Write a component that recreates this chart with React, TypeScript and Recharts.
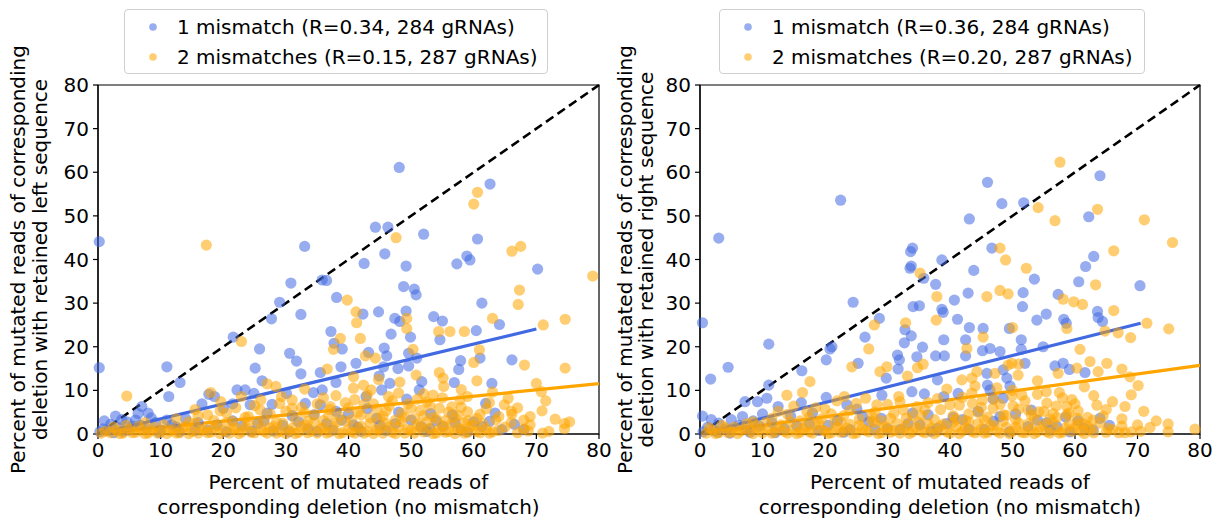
import React from "react";
import { ScatterChart, Scatter, XAxis, YAxis, ReferenceLine, ReferenceArea } from "recharts";

type Pt = [number, number];

const FONT = "'DejaVu Sans', Verdana, sans-serif";
const FS = 20;
const BLUE = "#4169E1";
const ORANGE = "#FFA500";

const axisTicks = [0, 10, 20, 30, 40, 50, 60, 70, 80];

const xTitle = ["Percent of mutated reads of", "corresponding deletion (no mismatch)"];
const leftYTitle = ["Percent of mutated reads of corresponding", "deletion with retained left sequence"];
const rightYTitle = ["Percent of mutated reads of corresponding", "deletion with retained right sequence"];
const leftLegend = ["1 mismatch (R=0.34, 284 gRNAs)", "2 mismatches (R=0.15, 287 gRNAs)"];
const rightLegend = ["1 mismatch (R=0.36, 284 gRNAs)", "2 mismatches (R=0.20, 287 gRNAs)"];

// least-squares fits: slope, intercept, last x of the fitted range
const leftFitOne = { slope: 0.343, intercept: 0.05, xMax: 70 };
const leftFitTwo = { slope: 0.143, intercept: 0.1, xMax: 80 };
const rightFitOne = { slope: 0.36, intercept: 0.0, xMax: 70.5 };
const rightFitTwo = { slope: 0.196, intercept: 0.05, xMax: 80 };

// left sequence retained, 1 mismatch
const leftOneMismatch: Pt[] = [
  [0.2, 44.1], [33.0, 43.0], [48.1, 61.1], [62.6, 57.3], [44.3, 47.4], [46.3, 47.4], [52.0, 45.8], [60.6, 44.7], [45.8, 41.3], [58.9, 40.8],
  [0.2, 15.2], [11.0, 15.4], [11.3, 8.6], [13.1, 11.8], [21.6, 22.2], [29.0, 30.2], [30.8, 34.6], [32.4, 27.4], [27.7, 26.4], [35.8, 35.3],
  [36.5, 35.2], [38.1, 31.3], [37.2, 23.5], [37.7, 20.8], [39.0, 19.5], [25.8, 19.5], [30.6, 18.5], [31.7, 16.7], [32.4, 13.8], [25.1, 15.1],
  [26.2, 12.2], [35.5, 14.1], [38.8, 15.4], [38.0, 11.8], [35.8, 10.1], [34.4, 9.5], [17.7, 9.1], [18.6, 8.6], [22.2, 10.1], [23.5, 10.1],
  [24.9, 9.3], [30.1, 9.3], [16.6, 6.9], [20.0, 5.9], [21.5, 6.9], [24.3, 6.7], [27.8, 6.8], [33.1, 7.0], [35.5, 6.7], [2.8, 4.1],
  [4.6, 2.8], [6.4, 4.7], [7.0, 6.3], [8.5, 3.7], [11.0, 3.2], [36.5, 2.4], [38.9, 3.2],
  [42.5, 39.1], [49.2, 38.5], [57.3, 39.0], [59.4, 39.9], [70.2, 37.8], [48.8, 33.8], [50.5, 33.2], [50.8, 31.9],
  [61.3, 30.0], [42.3, 27.5], [44.8, 28.0], [47.4, 26.5], [48.2, 25.8], [49.2, 28.2], [53.6, 26.9], [55.0, 25.9], [64.1, 25.1], [46.8, 22.9],
  [49.9, 22.2], [54.6, 21.6], [60.4, 23.7], [43.2, 18.7], [45.7, 19.7], [46.1, 17.9], [49.6, 18.5], [50.9, 17.4], [61.0, 17.4],
  [57.9, 16.8], [66.1, 17.0], [41.2, 16.2], [45.6, 15.4], [47.9, 15.0], [49.6, 15.6], [57.6, 14.8], [56.9, 11.8], [62.9, 11.6], [51.7, 12.0],
  [44.9, 13.3], [45.3, 10.1], [46.6, 11.6], [51.3, 10.1], [42.8, 8.6], [49.3, 8.0], [61.9, 7.0], [63.4, 4.8], [48.0, 5.0], [53.1, 4.7],
  [56.6, 4.4], [61.3, 1.7], [55.1, 1.7], [51.6, 1.7], [40.8, 2.1],
  [0.3, 0.5], [0.8, 1.2], [1.5, 0.8], [2.0, 2.2], [3.2, 1.5], [4.0, 0.6], [5.5, 1.8], [6.0, 3.2], [7.8, 1.2], [9.2, 2.6],
  [10.0, 0.9], [12.5, 1.6], [14.0, 3.5], [15.5, 0.8], [19.0, 2.1], [20.5, 0.5], [23.0, 1.8], [26.5, 3.0], [28.0, 0.7], [29.5, 2.0],
  [31.0, 4.2], [33.5, 1.2], [37.5, 0.9], [42.0, 0.6], [44.5, 3.6], [46.0, 0.8], [47.5, 2.4], [52.5, 0.6], [54.0, 3.0], [58.0, 0.8],
  [60.0, 2.8], [64.5, 1.0], [66.5, 2.2],
  [1.0, 3.0], [2.5, 0.3], [3.8, 3.3], [5.0, 0.9], [6.8, 2.0], [8.0, 4.8], [9.8, 0.3], [11.8, 2.1], [13.0, 0.5], [16.0, 2.6],
  [17.5, 0.9], [21.5, 3.0], [24.5, 0.6], [25.5, 2.4], [27.0, 4.8], [30.5, 0.5], [32.0, 2.8], [34.5, 4.4], [35.0, 0.6], [38.0, 5.2],
  [40.0, 4.6], [41.5, 1.5], [43.0, 5.8], [45.0, 2.0], [50.0, 3.2], [53.0, 1.2], [57.0, 2.6], [59.0, 0.5], [62.5, 2.9], [68.0, 1.0],
];

// left sequence retained, 2 mismatches
const leftTwoMismatches: Pt[] = [
  [17.3, 43.3], [60.6, 55.4], [60.0, 52.7], [47.6, 45.0], [66.1, 41.9], [67.5, 43.0], [4.6, 8.7], [22.9, 21.2], [39.8, 30.7], [38.7, 21.9],
  [37.6, 19.4], [36.6, 14.9], [22.9, 8.6], [28.4, 10.9], [29.3, 8.6], [19.6, 7.4], [25.9, 5.5], [37.1, 6.3], [7.5, 2.6],
  [79.0, 36.2], [67.3, 33.0], [67.1, 29.7], [41.2, 28.0], [41.3, 25.5], [49.3, 26.5], [49.3, 24.2], [63.0, 26.5], [71.1, 25.0],
  [74.6, 26.3], [41.9, 21.9], [54.4, 23.5], [56.2, 23.5], [58.5, 23.5], [42.7, 17.9], [44.3, 17.4], [50.3, 19.4], [60.9, 19.3], [60.0, 16.4],
  [68.1, 15.8], [74.6, 15.1], [54.5, 14.1], [55.1, 12.8], [55.2, 10.9], [60.5, 12.2], [70.0, 11.6], [70.8, 9.7], [74.5, 2.4], [75.3, 2.8],
  [70.9, 5.3], [50.8, 13.5], [48.2, 11.9], [40.8, 13.1], [40.8, 10.5], [42.4, 11.2], [43.6, 10.1], [46.4, 8.6], [53.5, 8.9], [57.8, 7.8],
  [64.9, 6.7], [66.1, 4.5], [58.5, 2.6], [59.1, 3.1], [68.7, 0.7],
  [18.0, 9.5], [27.0, 11.5], [33.0, 10.3], [44.8, 12.5], [52.0, 9.2], [58.0, 10.2], [63.0, 9.6], [36.0, 8.3], [31.0, 7.8],
  [0.5, 0.2], [1.2, 0.6], [2, 0.3], [3, 0.8], [4, 0.2], [5, 1.1], [6, 0.4], [7, 0.9], [8, 0.2], [9, 1.5], [10, 0.5],
  [11, 0.1], [12, 1.0], [13, 0.3], [14, 1.8], [15, 0.6], [16, 0.2], [17, 1.2], [18, 0.4], [19, 2.0], [20, 0.7],
  [21, 0.2], [22, 1.4], [23, 0.5], [24, 2.3], [25, 0.3], [26, 1.1], [27, 0.2], [28, 1.7], [29, 0.6], [30, 0.1],
  [31, 1.3], [32, 0.4], [33, 2.1], [34, 0.7], [35, 0.2], [36, 1.5], [37, 0.5], [38, 2.6], [39, 0.3], [40, 1.0],
  [41, 0.2], [42, 1.8], [43, 0.6], [44, 0.1], [45, 1.2], [46, 2.4], [47, 0.4], [48, 1.6], [49, 0.2], [50, 0.9],
  [51, 2.2], [52, 0.5], [53, 1.3], [54, 0.2], [55, 1.9], [56, 0.6], [57, 0.1], [58, 1.1], [59, 0.4], [60, 2.0],
  [61, 0.3], [62, 1.2], [63, 0.5], [65, 1.6], [67, 0.3], [69, 2.1], [72, 0.6], [74.5, 1.2],
  [2.5, 1.6], [3.5, 0.1], [4.5, 2.0], [5.5, 0.3], [6.5, 1.7], [7.5, 0.1], [8.5, 0.8], [9.5, 0.2], [10.5, 2.1], [11.5, 0.7],
  [12.5, 0.2], [13.5, 1.4], [14.5, 0.1], [15.5, 2.4], [16.5, 0.9], [17.5, 0.3], [18.5, 1.5], [19.5, 0.1], [20.5, 2.6], [21.5, 1.0],
  [22.5, 0.1], [23.5, 1.6], [24.5, 0.4], [25.5, 2.8], [26.5, 0.6], [27.5, 1.3], [28.5, 0.2], [29.5, 2.5], [30.5, 0.8], [31.5, 0.1],
  [32.5, 1.6], [33.5, 0.3], [34.5, 2.6], [35.5, 1.1], [36.5, 0.2], [37.5, 1.8], [38.5, 0.1], [39.5, 2.9], [40.5, 0.5], [41.5, 1.4],
  [42.5, 0.2], [43.5, 2.5], [44.5, 0.9], [45.5, 0.2], [46.5, 1.7], [47.5, 0.1], [48.5, 2.8], [49.5, 1.0], [50.5, 0.2], [51.5, 1.5],
  [52.5, 2.7], [53.5, 0.1], [54.5, 1.0], [55.5, 0.4], [56.5, 2.4], [57.5, 1.3], [58.5, 0.2], [59.5, 1.7], [60.5, 0.6], [61.5, 2.3],
  [62.5, 0.2], [64, 0.8], [66, 2.6], [68, 1.2], [71, 0.2],
  [12.5, 3.5], [14.5, 2.8], [16, 4.2], [18.5, 3.1], [20.5, 4.8], [21.5, 2.9], [23.5, 3.8], [25, 6.5], [26.5, 3.2], [27.5, 4.6],
  [28.5, 2.7], [30, 5.2], [31.5, 3.4], [32.5, 6.1], [33.5, 2.9], [34.5, 4.4], [36, 3.1], [37, 5.6], [38.5, 4.1], [39.5, 7.2],
  [40.5, 3.3], [41.5, 5.0], [42.5, 6.8], [43.5, 3.7], [44.5, 5.7], [45.5, 4.1], [46.5, 6.4], [47.5, 3.2], [48.5, 4.8], [49.5, 6.9],
  [50.5, 3.5], [51.5, 5.4], [52.5, 7.3], [53.5, 3.9], [54.5, 5.9], [55.5, 3.1], [56.5, 6.2], [57.5, 4.3], [59, 5.1], [60.5, 3.6],
  [62, 5.8], [63.5, 3.2], [65.5, 8.2], [67, 6.0], [69, 4.0], [71.5, 7.6], [73, 3.4],
  [15.5, 5.6], [17.5, 4.4], [19.5, 5.3], [22, 6.0], [24, 4.0], [26, 7.8], [29, 7.0], [31, 5.9], [33, 4.9], [35, 6.9],
  [36.8, 4.2], [38, 8.8], [40, 6.0], [41, 7.9], [42, 4.4], [43, 9.0], [44, 6.9], [45, 3.6], [46, 5.3], [47, 7.6],
  [48, 9.4], [49, 3.9], [50, 5.9], [51, 8.0], [52, 4.2], [53, 6.5], [54, 3.5], [55, 8.3], [56, 5.0], [57, 3.7],
  [58, 6.1], [59, 8.6], [61, 4.5], [62.5, 7.2], [64, 4.0], [66, 5.2], [68, 3.2],
];

// right sequence retained, 1 mismatch
const rightOneMismatch: Pt[] = [
  [3.0, 44.9], [22.5, 53.6], [34.0, 42.6], [33.7, 41.8], [46.0, 57.7], [64.0, 59.2], [48.3, 52.8], [51.8, 53.0], [43.1, 49.3], [62.2, 49.8],
  [46.7, 42.6], [63.0, 40.7],
  [0.4, 25.5], [1.7, 12.6], [4.5, 15.3], [0.4, 4.1], [11.0, 20.6], [11.0, 11.2], [7.2, 7.4], [9.2, 7.4], [10.7, 8.2], [12.5, 6.3],
  [16.3, 14.5], [16.2, 7.2], [24.5, 30.2], [20.2, 17.0], [20.8, 19.5], [21.1, 20.0], [25.3, 16.2], [26.4, 22.2], [28.7, 26.5], [29.8, 12.8],
  [20.2, 8.4], [23.5, 6.7], [25.1, 5.7], [29.1, 8.9], [33.6, 38.0], [33.8, 38.5], [35.8, 35.7], [38.7, 39.9], [37.7, 34.3], [34.1, 29.2],
  [35.1, 29.4], [38.7, 28.6], [38.9, 27.9], [32.8, 23.9], [33.8, 22.5], [32.7, 20.9], [35.6, 19.9], [31.6, 18.1], [31.9, 17.0], [34.7, 17.7],
  [37.7, 17.9], [39.1, 17.9], [31.7, 14.9], [38.0, 12.4], [33.9, 9.7], [35.9, 9.2], [39.0, 8.6], [33.3, 2.4], [35.2, 2.1],
  [61.7, 38.4], [43.8, 37.5], [53.5, 35.5], [60.6, 34.9], [70.4, 34.0], [42.9, 32.3], [51.7, 32.4], [57.3, 32.0], [40.7, 30.7],
  [51.6, 29.2], [55.4, 27.5], [53.9, 26.1], [58.2, 26.3], [58.6, 25.4], [63.6, 28.1], [63.7, 26.7], [64.4, 25.8], [41.2, 26.3], [43.1, 24.4],
  [45.3, 24.2], [49.5, 24.2], [39.0, 21.6], [42.5, 21.6], [42.5, 17.9], [45.2, 19.1], [46.4, 19.6], [48.0, 18.9], [51.4, 21.6], [51.4, 19.4],
  [52.0, 16.2], [54.9, 20.0], [56.8, 15.6], [58.1, 16.2], [59.1, 14.8], [61.6, 14.1], [45.9, 13.9], [48.5, 14.7], [49.1, 12.8], [49.6, 11.0],
  [46.0, 11.2], [46.4, 10.1], [41.3, 9.3], [46.9, 8.0], [48.5, 8.2], [57.1, 1.7], [52.5, 1.7], [56.0, 0.9], [59.2, 0.5], [62.9, 0.9],
  [0.5, 0.5], [1.2, 1.5], [2.2, 0.8], [3.0, 2.5], [4.2, 1.2], [5.0, 3.3], [6.2, 2.0], [7.5, 1.0], [8.5, 3.0], [9.5, 1.8],
  [11.5, 2.6], [13.5, 1.2], [14.5, 4.1], [17.5, 2.3], [19, 0.8], [22, 3.1], [24, 1.0], [27, 2.8], [30, 1.2], [36.5, 4.4],
  [38, 1.3], [40.5, 3.8], [43, 1.1], [44.5, 5.2], [47, 2.9], [50.5, 4.6], [54, 3.2], [60.5, 3.0], [65.5, 2.0],
  [1.8, 3.3], [2.8, 0.4], [4.8, 0.2], [6.8, 4.0], [8.0, 0.4], [10, 4.6], [12, 0.3], [15.5, 1.8], [18, 4.8], [20.5, 2.0],
  [23, 0.4], [26, 4.0], [28, 1.0], [29, 3.6], [32, 1.0], [34, 4.8], [37, 0.6], [39.5, 2.4], [42, 3.3], [45.5, 1.0],
  [48, 4.0], [49.5, 0.5], [53, 5.5], [55.5, 2.6], [58.5, 3.9], [61.5, 1.3], [64, 3.6],
];

// right sequence retained, 2 mismatches
const rightTwoMismatches: Pt[] = [
  [57.6, 62.3], [54.1, 51.9], [56.8, 48.9], [63.6, 51.5], [71.1, 49.1], [75.6, 43.9], [48.0, 42.6], [66.2, 42.0],
  [13.9, 8.9], [17.6, 12.0], [16.4, 9.5], [17.1, 5.1], [24.3, 15.4], [27.0, 19.5], [27.9, 25.0], [28.8, 14.3], [29.9, 15.4], [21.9, 7.6],
  [23.1, 8.6], [28.3, 6.7], [35.2, 36.9], [37.9, 31.5], [37.8, 26.1], [32.9, 25.5], [34.8, 15.2], [35.7, 16.0], [33.2, 13.3], [31.8, 8.6],
  [31.0, 4.7], [32.5, 5.5], [34.7, 6.3],
  [48.9, 39.9], [52.2, 38.0], [63.3, 34.2], [45.9, 31.5], [48.0, 32.9], [49.3, 32.1], [58.1, 30.9], [59.8, 30.3], [61.2, 29.7], [58.7, 24.2],
  [66.2, 28.3], [64.8, 23.6], [66.9, 23.2], [68.9, 22.1], [71.5, 25.4], [75.0, 24.1], [45.3, 22.2], [50.0, 24.4], [42.7, 19.6], [49.9, 16.2],
  [51.0, 16.0], [60.8, 19.4], [62.4, 16.6], [65.1, 16.2], [57.3, 13.9], [60.3, 15.1], [63.7, 14.3], [67.5, 14.9], [68.8, 13.1], [70.1, 11.1],
  [41.9, 12.4], [43.5, 12.8], [44.3, 14.3], [47.2, 13.9], [49.3, 15.8], [50.9, 13.5], [54.0, 12.2], [55.4, 9.7], [49.9, 8.7], [43.6, 7.0],
  [45.2, 7.8], [46.9, 5.9], [50.1, 6.4], [54.2, 5.1], [58.7, 6.3], [58.7, 4.4], [59.1, 2.4], [57.1, 3.8], [60.4, 3.6], [61.4, 2.3],
  [62.9, 3.2], [65.3, 1.3], [70.0, 2.1], [74.9, 2.3], [74.9, 0.5], [79.2, 1.1], [67.0, 0.3], [68.0, 0.3],
  [1, 0.2], [2, 0.9], [3, 0.3], [4, 1.4], [5, 0.5], [6, 0.1], [7, 1.1], [8, 0.6], [9, 1.9], [10, 0.3],
  [11, 1.2], [12, 0.5], [13, 2.1], [14, 0.2], [15, 1.0], [16, 0.4], [17, 1.7], [18, 0.2], [19, 2.4], [20, 0.8],
  [21, 0.3], [22, 1.5], [23, 0.6], [24, 2.2], [25, 0.2], [26, 1.2], [27, 0.5], [28, 2.6], [29, 0.3], [30, 1.4],
  [31, 0.8], [32, 0.2], [33, 1.9], [34, 0.5], [35, 2.7], [36, 0.3], [37, 1.3], [38, 0.6], [39, 2.3], [40, 0.2],
  [41, 1.6], [42, 0.7], [43, 2.8], [44, 0.3], [45, 1.1], [46, 0.4], [47, 2.0], [48, 0.2], [49, 1.5], [50, 0.6],
  [51, 2.5], [52, 0.3], [53, 1.2], [54, 0.5], [55, 2.2], [56, 0.2], [57, 1.0], [58, 0.4], [60, 1.4], [61, 0.7],
  [62, 1.8], [63, 0.3], [64, 2.5], [66, 1.0], [69, 0.5], [72, 1.5],
  [1.5, 1.4], [2.5, 0.1], [3.5, 2.0], [4.5, 0.3], [5.5, 1.6], [6.5, 0.7], [7.5, 2.4], [8.5, 0.1], [9.5, 1.0], [10.5, 2.6],
  [11.5, 0.2], [12.5, 1.5], [13.5, 0.6], [14.5, 2.8], [15.5, 0.1], [16.5, 1.2], [17.5, 0.5], [18.5, 2.1], [19.5, 0.9], [20.5, 0.1],
  [21.5, 2.5], [22.5, 0.4], [23.5, 1.4], [24.5, 0.1], [25.5, 2.0], [26.5, 0.8], [27.5, 2.9], [28.5, 0.1], [29.5, 1.7], [30.5, 0.4],
  [31.5, 2.4], [32.5, 1.1], [33.5, 0.1], [34.5, 1.5], [35.5, 0.6], [36.5, 2.3], [37.5, 0.1], [38.5, 1.8], [39.5, 0.5], [40.5, 2.6],
  [41.5, 0.1], [42.5, 1.3], [43.5, 0.6], [44.5, 2.4], [45.5, 0.2], [46.5, 1.8], [47.5, 0.7], [48.5, 2.9], [49.5, 0.1], [50.5, 1.5],
  [51.5, 0.4], [52.5, 2.3], [53.5, 0.1], [54.5, 1.6], [55.5, 0.5], [56.5, 2.7], [57.5, 0.2], [58.5, 1.4], [59.5, 0.6], [60.5, 2.4],
  [61.5, 0.1], [62.5, 1.1], [65, 0.4], [67.5, 1.8], [70.5, 0.6],
  [8.5, 2.8], [11.5, 3.6], [14, 4.5], [16, 3.0], [18.5, 6.0], [19.5, 3.5], [21, 4.6], [22.5, 2.9], [24, 5.4], [25.5, 3.4],
  [26.5, 8.2], [27.5, 4.1], [29, 3.0], [30, 6.8], [33, 3.6], [35.5, 4.3], [36.5, 7.2], [37.5, 3.3], [38.5, 5.6], [39.5, 10.3],
  [40.5, 4.2], [41.5, 6.6], [42.5, 3.1], [43.5, 9.4], [44.5, 4.9], [45.5, 3.2], [47.5, 10.6], [48.5, 4.4], [50.5, 3.3], [51.5, 8.9],
  [52.5, 5.5], [53.5, 3.6], [55.5, 7.1], [56.5, 4.7], [57.5, 9.5], [59.5, 7.9], [60.5, 5.3], [61.5, 10.8], [63.5, 6.6], [64.5, 4.1],
  [66, 7.4], [67.5, 3.5], [69, 9.0], [71, 5.2], [73, 3.0],
  [12.5, 5.2], [15, 6.4], [17.5, 3.8], [20, 5.7], [23, 4.2], [25, 7.0], [28, 5.0], [30.5, 3.6], [32, 7.4], [34, 4.1],
  [36, 5.5], [38, 8.1], [40, 6.7], [41, 3.4], [42, 8.4], [43, 4.6], [44, 11.0], [45, 6.1], [46, 3.9], [47, 8.0],
  [48, 6.8], [49, 4.3], [50, 10.0], [51, 5.7], [52, 7.6], [53, 4.4], [54, 9.1], [55, 5.2], [56, 3.4], [57, 6.4],
  [58, 8.3], [59, 4.8], [60, 6.9], [62, 3.8], [63, 8.8], [65, 5.6], [68, 6.3],
];

const toRows = (pts: Pt[]) => pts.map(([x, y]) => ({ x, y }));

type Fit = { slope: number; intercept: number; xMax: number };
const fitSegment = (f: Fit) => [
  { x: 0, y: f.intercept },
  { x: f.xMax, y: f.intercept + f.slope * f.xMax },
];

const dot = (color: string) => (props: any) =>
  <circle cx={props.cx} cy={props.cy} r={5.6} fill={color} fillOpacity={0.55} stroke="none" />;

const CHART_W = 612;
const CHART_H = 520;
const Y_AXIS_W = 40;

type PanelProps = {
  left: number;
  marginRight: number;
  one: Pt[];
  two: Pt[];
  fitOne: Fit;
  fitTwo: Fit;
  yTitle: string[];
  yTitleX: [number, number];
  legend: string[];
  legendLeft: number;
  legendWidth: number;
};

function Panel(p: PanelProps) {
  const margin = { top: 85, right: p.marginRight, bottom: 56, left: 58 };
  const plotLeft = margin.left + Y_AXIS_W;
  const plotRight = CHART_W - margin.right;
  const plotBottom = CHART_H - margin.bottom - 30;
  const cx = (plotLeft + plotRight) / 2;
  const cy = (margin.top + plotBottom) / 2;
  const textStyle = { fontFamily: FONT, fontSize: FS, fill: "#000" };

  const renderXTitle = () => (
    <g>
      <text x={cx} y={plotBottom + 55} textAnchor="middle" style={textStyle}>{xTitle[0]}</text>
      <text x={cx} y={plotBottom + 80} textAnchor="middle" style={textStyle}>{xTitle[1]}</text>
    </g>
  );
  const renderYTitle = () => (
    <g>
      {p.yTitle.map((t, i) => (
        <text key={i} x={p.yTitleX[i]} y={cy} textAnchor="middle" dominantBaseline="central"
          transform={`rotate(-90, ${p.yTitleX[i]}, ${cy})`} style={textStyle}>{t}</text>
      ))}
    </g>
  );

  return (
    <div style={{ position: "absolute", left: p.left, top: 0, width: CHART_W, height: CHART_H }}>
      <ScatterChart width={CHART_W} height={CHART_H} margin={margin}>
        <XAxis type="number" dataKey="x" domain={[0, 80]} ticks={axisTicks} height={30}
          tickSize={5} tickMargin={4} stroke="#000" axisLine={{ stroke: "#000", strokeWidth: 1.2 }}
          tickLine={{ stroke: "#000", strokeWidth: 1.2 }}
          tick={{ fill: "#000", fontSize: FS, fontFamily: FONT }}
          label={{ content: renderXTitle }} />
        <YAxis type="number" dataKey="y" domain={[0, 80]} ticks={axisTicks} width={Y_AXIS_W}
          tickSize={5} tickMargin={4} stroke="#000" axisLine={{ stroke: "#000", strokeWidth: 1.2 }}
          tickLine={{ stroke: "#000", strokeWidth: 1.2 }}
          tick={{ fill: "#000", fontSize: FS, fontFamily: FONT }}
          label={{ content: renderYTitle }} />
        <ReferenceArea x1={0} x2={80} y1={0} y2={80} fill="none" fillOpacity={0}
          stroke="#000" strokeWidth={1.2} ifOverflow="visible" />
        <Scatter data={toRows(p.one)} shape={dot(BLUE)} isAnimationActive={false} />
        <Scatter data={toRows(p.two)} shape={dot(ORANGE)} isAnimationActive={false} />
        <ReferenceLine segment={fitSegment(p.fitOne)} stroke={BLUE} strokeWidth={3.2} ifOverflow="visible" />
        <ReferenceLine segment={fitSegment(p.fitTwo)} stroke={ORANGE} strokeWidth={3.2} ifOverflow="visible" />
        <ReferenceLine segment={[{ x: 0, y: 0 }, { x: 80, y: 80 }]} stroke="#000" strokeWidth={2.6}
          strokeDasharray="9 5" ifOverflow="visible" />
      </ScatterChart>
      <div style={{
        position: "absolute", left: p.legendLeft, top: 9, width: p.legendWidth, height: 65,
        boxSizing: "border-box", border: "1px solid #cfcfcf", borderRadius: 4,
        background: "rgba(255,255,255,0.8)", fontFamily: FONT, fontSize: FS, color: "#000",
      }}>
        {p.legend.map((label, i) => (
          <div key={i} style={{ position: "absolute", left: 0, top: 4 + i * 30, height: 26, width: "100%" }}>
            <svg width={20} height={26} style={{ position: "absolute", left: 18, top: 0 }}>
              <circle cx={10} cy={13} r={3.8} fill={i === 0 ? BLUE : ORANGE} fillOpacity={0.55} />
            </svg>
            <span style={{ position: "absolute", left: 52, top: 0, lineHeight: "26px", whiteSpace: "nowrap" }}>{label}</span>
          </div>
        ))}
      </div>
    </div>
  );
}

export default function App() {
  return (
    <div style={{ position: "absolute", left: 0, top: 0, width: 1225, height: 520, background: "#fff", overflow: "hidden" }}>
      <Panel left={0} marginRight={13} one={leftOneMismatch} two={leftTwoMismatches}
        fitOne={leftFitOne} fitTwo={leftFitTwo} yTitle={leftYTitle} yTitleX={[18, 40]}
        legend={leftLegend} legendLeft={124} legendWidth={424} />
      <Panel left={602} marginRight={14} one={rightOneMismatch} two={rightTwoMismatches}
        fitOne={rightFitOne} fitTwo={rightFitTwo} yTitle={rightYTitle} yTitleX={[23, 44]}
        legend={rightLegend} legendLeft={117} legendWidth={426} />
    </div>
  );
}
